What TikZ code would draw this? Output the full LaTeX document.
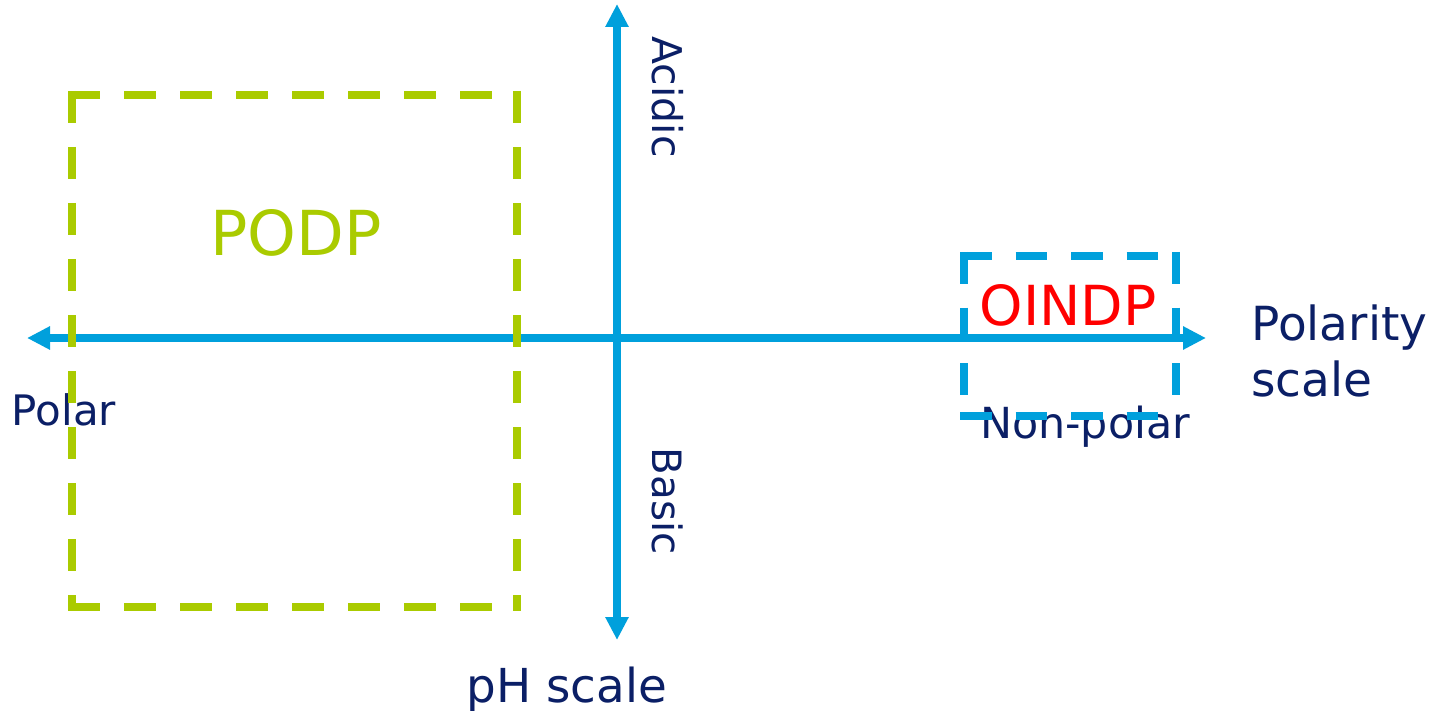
\documentclass[tikz,border=0pt]{standalone}
\usepackage{fontspec}
\setmainfont{DejaVu Sans}
\usetikzlibrary{arrows.meta}
\definecolor{axisblue}{HTML}{00A0DC}
\definecolor{boxgreen}{HTML}{AACB00}
\definecolor{navy}{HTML}{0B1F66}
\definecolor{oindpred}{HTML}{FF0000}
\tikzset{
  axis/.style={draw=axisblue, line width=4.3pt, -{Triangle[length=11.5pt,width=11pt]}},
  gdash/.style={draw=boxgreen, line width=4pt},
  bdash/.style={draw=axisblue, line width=3.9pt},
  lbl/.style={inner sep=0pt, anchor=base, text=navy, font=\fontsize{21pt}{25pt}\selectfont},
}
\begin{document}
\begin{tikzpicture}[x=0.5pt,y=-0.5pt]
\useasboundingbox (0,0) rectangle (1439,711);
% axis endpoints
\coordinate (o) at (617,338);
\coordinate (left) at (27,338);
\coordinate (right) at (1206,338);
\coordinate (top) at (617,4);
\coordinate (bottom) at (617,640);
\draw[axis] (o) -- (left);
\draw[axis] (o) -- (right);
\draw[axis] (o) -- (top);
\draw[axis] (o) -- (bottom);
% labels
\node[inner sep=0pt, anchor=base, text=boxgreen, font=\fontsize{31pt}{36pt}\selectfont] (podp) at (296,256) {PODP};
\node[inner sep=0pt, anchor=base, text=oindpred, font=\fontsize{27.6pt}{32pt}\selectfont] (oindp) at (1068,325) {OINDP};
\node[lbl] (polar) at (64,425) {Polar};
\node[lbl, font=\fontsize{21.4pt}{25pt}\selectfont] (nonpolar) at (1085,438) {Non-polar};
\node[lbl, font=\fontsize{23.5pt}{28pt}\selectfont, align=left, anchor=north west] (polscale) at (1251,304) {Polarity\\scale};
\node[lbl, font=\fontsize{23.4pt}{28pt}\selectfont] (phscale) at (567,702) {pH scale};
\node[inner sep=0pt, text=navy, rotate=-90, font=\fontsize{20.5pt}{24pt}\selectfont] (acidic) at (668,97) {Acidic};
\node[inner sep=0pt, text=navy, rotate=-90, font=\fontsize{20.2pt}{24pt}\selectfont] (basic) at (668,501) {Basic};
% PODP box (dashed, each edge dashed from its top/left end)
\foreach \x in {68,124,...,516} {
  \draw[gdash] (\x,95) -- ({min(\x+32,521)},95);
  \draw[gdash] (\x,607) -- ({min(\x+32,521)},607);
}
\foreach \y in {91,147,...,595} {
  \draw[gdash] (72,\y) -- (72,{min(\y+32,611)});
  \draw[gdash] (517,\y) -- (517,{min(\y+32,611)});
}
% OINDP box
\foreach \x in {960,1015.5,1071,1126.5} {
  \draw[bdash] (\x,256) -- (\x+31.5,256);
  \draw[bdash] (\x,416) -- (\x+31.5,416);
}
\foreach \y in {252,307.5,363} {
  \draw[bdash] (964,\y) -- (964,\y+31.5);
  \draw[bdash] (1176,\y) -- (1176,\y+31.5);
}
\end{tikzpicture}
\end{document}
